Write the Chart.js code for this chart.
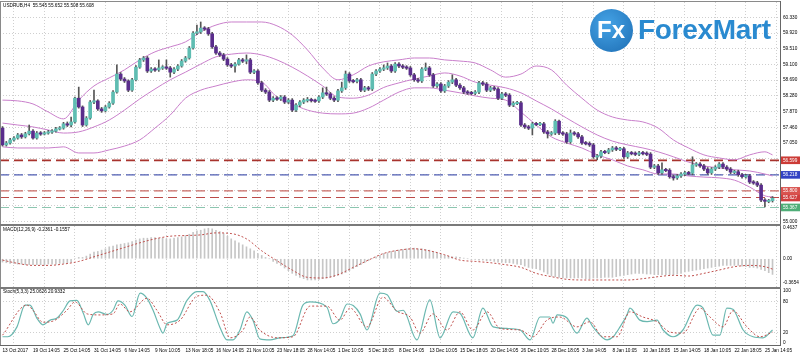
<!DOCTYPE html>
<html><head><meta charset="utf-8">
<script src="https://cdn.jsdelivr.net/npm/chart.js@4.4.1/dist/chart.umd.min.js"></script>
<style>
html,body{margin:0;padding:0;background:#fff;width:800px;height:356px;overflow:hidden;position:relative}
.c{position:absolute;left:0;width:800px}
.ln{position:absolute;background:#777}
</style></head><body>
<div class="c" style="top:-4px;height:236px"><canvas id="cMain"></canvas></div>
<div class="c" style="top:220px;height:72px"><canvas id="cMacd"></canvas></div>
<div class="c" style="top:284px;height:72px"><canvas id="cStoch"></canvas></div>
<div class="ln" style="left:0;top:1px;width:781px;height:1px;background:#8a8a8a"></div>
<div class="ln" style="left:0;top:1px;width:1px;height:345px;background:#8a8a8a"></div>
<div class="ln" style="left:780px;top:1px;width:1px;height:345px;background:#666"></div>
<div class="ln" style="left:0;top:224px;width:781px;height:2px;background:#7a7a7a"></div>
<div class="ln" style="left:0;top:287px;width:781px;height:2px;background:#7a7a7a"></div>
<div class="ln" style="left:0;top:345px;width:781px;height:1px;background:#666"></div>
<div style="position:absolute;left:590px;top:9px;width:43px;height:43px;border-radius:50%;background:radial-gradient(circle at 40% 35%,#45a3e6,#1d6db3)"></div>
<div style="position:absolute;left:597px;top:18px;color:#fff;font:bold 24px 'Liberation Sans';line-height:24px">Fx</div>
<div style="position:absolute;left:638px;top:16px;color:#2a8ad0;font:bold 28px 'Liberation Sans';line-height:28px;letter-spacing:-0.3px">ForexMart</div>
<script>
const dateLabels = ['13 Oct 2017','19 Oct 14:05','25 Oct 14:05','31 Oct 14:05','6 Nov 14:05','9 Nov 10:05','13 Nov 18:05','16 Nov 14:05','21 Nov 10:05','23 Nov 18:05','28 Nov 14:05','1 Dec 10:05','5 Dec 18:05','8 Dec 14:05','13 Dec 10:05','15 Dec 18:05','20 Dec 14:05','26 Dec 10:05','28 Dec 18:05','3 Jan 14:05','8 Jan 10:05','10 Jan 18:05','15 Jan 14:05','18 Jan 10:05','22 Jan 18:05','25 Jan 14:05'];
const priceTicks = [60.330,59.920,59.510,59.100,58.690,58.280,57.870,57.460,57.050,56.640,56.230,55.820,55.410,55.000];
const hiddenPriceTicks = [56.640,56.230,55.820,55.410];
const levelValues = [56.599,56.218,55.800,55.627,55.367];
const levelLineColors = ['#a8332d','#4f5db3','#c96a64','#bb4a48','#8cc6b0'];
const levelLabelColors = ['#cc3b36','#3443c4','#d9534f','#cf3e3e','#4fae78'];
const macdTicks = [0.4637,0,-0.3654];
const stochTicks = [100,80,20,0];

const opens = [57.44,57.00,57.05,57.13,57.18,57.26,57.21,57.29,57.36,57.18,
57.31,57.29,57.31,57.34,57.36,57.42,57.44,57.55,57.52,57.60,
58.22,57.99,57.52,57.70,58.12,58.15,57.94,57.89,57.99,58.09,
58.38,58.85,58.72,58.67,58.43,58.70,59.03,59.22,59.27,58.93,
58.98,58.96,59.01,59.03,59.01,58.90,58.98,59.06,59.19,59.27,
59.53,59.92,59.95,60.05,60.03,59.90,59.56,59.40,59.35,59.24,
59.09,59.06,59.11,59.22,59.19,59.22,58.90,58.93,58.62,58.43,
58.38,58.17,58.22,58.20,58.25,58.12,58.17,57.91,58.04,58.12,
58.17,58.18,58.16,58.15,58.25,58.36,58.33,58.22,58.17,58.41,
58.49,58.85,58.67,58.66,58.70,58.43,58.49,58.46,58.85,58.93,
58.98,59.01,59.06,58.93,59.11,59.06,59.03,59.01,58.83,58.70,
58.67,58.98,59.01,58.83,58.54,58.59,58.41,58.54,58.64,58.70,
58.56,58.49,58.38,58.36,58.35,58.38,58.62,58.59,58.43,58.49,
58.46,58.22,58.33,58.30,58.04,58.09,58.10,57.52,57.47,57.44,
57.55,57.54,57.55,57.34,57.29,57.31,57.62,57.31,57.29,57.08,
57.31,57.29,57.21,57.05,57.04,57.00,56.69,56.71,56.82,56.81,
56.87,56.92,56.89,56.90,56.69,56.79,56.78,56.76,56.79,56.78,
56.76,56.42,56.45,56.27,56.35,56.34,56.17,56.14,56.19,56.24,
56.27,56.26,56.48,56.50,56.45,56.37,56.27,56.37,56.42,56.50,
56.42,56.37,56.29,56.30,56.22,56.17,56.19,56.03,56.01,55.95,
55.56,55.53,55.545];
const closes = [57.00,57.05,57.13,57.18,57.26,57.21,57.29,57.36,57.18,57.31,
57.29,57.31,57.34,57.36,57.42,57.44,57.55,57.52,57.60,58.22,
57.99,57.52,57.70,58.12,58.15,57.94,57.89,57.99,58.09,58.38,
58.85,58.72,58.67,58.43,58.70,59.03,59.22,59.27,58.93,58.98,
58.96,59.01,59.03,59.01,58.90,58.98,59.06,59.19,59.27,59.53,
59.92,59.95,60.05,60.03,59.90,59.56,59.40,59.35,59.24,59.09,
59.06,59.11,59.22,59.19,59.22,58.90,58.93,58.62,58.43,58.38,
58.17,58.22,58.20,58.25,58.12,58.17,57.91,58.04,58.12,58.17,
58.18,58.16,58.15,58.25,58.36,58.33,58.22,58.17,58.41,58.49,
58.85,58.67,58.66,58.70,58.43,58.49,58.46,58.85,58.93,58.98,
59.01,59.06,58.93,59.11,59.06,59.03,59.01,58.83,58.70,58.67,
58.98,59.01,58.83,58.54,58.59,58.41,58.54,58.64,58.70,58.56,
58.49,58.38,58.36,58.35,58.38,58.62,58.59,58.43,58.49,58.46,
58.22,58.33,58.30,58.04,58.09,58.10,57.52,57.47,57.44,57.55,
57.54,57.55,57.34,57.29,57.31,57.62,57.31,57.29,57.08,57.31,
57.29,57.21,57.05,57.04,57.00,56.69,56.71,56.82,56.81,56.87,
56.92,56.89,56.90,56.69,56.79,56.78,56.76,56.79,56.78,56.76,
56.42,56.45,56.27,56.35,56.34,56.17,56.14,56.19,56.24,56.27,
56.26,56.48,56.50,56.45,56.37,56.27,56.37,56.42,56.50,56.42,
56.37,56.29,56.30,56.22,56.17,56.19,56.03,56.01,55.95,55.56,
55.53,55.545,55.608];
const highs = [57.48,57.09,57.17,57.22,57.30,57.30,57.33,57.52,57.40,57.35,
57.35,57.35,57.38,57.40,57.46,57.48,57.59,57.60,57.73,58.25,
58.51,58.02,57.74,58.16,58.43,58.18,57.98,58.03,58.13,58.42,
59.09,58.89,58.76,58.70,58.74,59.07,59.26,59.31,59.31,59.02,
59.02,59.22,59.07,59.22,59.05,59.02,59.10,59.23,59.31,59.57,
59.96,60.13,60.21,60.09,60.07,59.94,59.60,59.44,59.39,59.28,
59.13,59.15,59.26,59.26,59.35,59.26,58.97,58.97,58.66,58.47,
58.42,58.26,58.26,58.29,58.29,58.21,58.21,58.08,58.16,58.21,
58.24,58.22,58.20,58.29,58.49,58.51,58.37,58.26,58.45,58.64,
58.93,58.89,58.71,58.74,58.74,58.53,58.53,58.89,58.97,59.02,
59.09,59.14,59.10,59.15,59.15,59.10,59.07,59.05,58.87,58.74,
59.02,59.14,59.05,58.87,58.63,58.63,58.58,58.68,58.83,58.74,
58.60,58.53,58.42,58.40,58.42,58.66,58.66,58.63,58.53,58.53,
58.50,58.37,58.37,58.34,58.13,58.14,58.14,57.56,57.51,57.59,
57.59,57.59,57.59,57.38,57.35,57.66,57.65,57.35,57.33,57.39,
57.35,57.33,57.25,57.09,57.08,57.04,56.75,56.86,56.86,56.91,
56.96,56.96,56.94,56.94,56.83,56.83,56.82,56.83,56.83,56.82,
56.80,56.49,56.49,56.53,56.39,56.38,56.21,56.23,56.28,56.31,
56.31,56.69,56.54,56.54,56.49,56.41,56.41,56.46,56.54,56.54,
56.46,56.41,56.34,56.34,56.26,56.23,56.23,56.07,56.05,55.99,
55.60,55.58,55.652];
const lows = [56.97,56.97,57.02,57.10,57.15,57.17,57.18,57.26,57.15,57.15,
57.25,57.26,57.28,57.30,57.33,57.39,57.41,57.48,57.47,57.57,
57.96,57.48,57.49,57.67,58.08,57.90,57.85,57.86,57.96,58.06,
58.35,58.68,58.63,58.39,58.40,58.67,59.00,59.18,58.89,58.89,
58.92,58.92,58.97,58.97,58.77,58.86,58.94,59.03,59.16,59.24,
59.50,59.88,59.91,59.99,59.86,59.52,59.36,59.31,59.20,59.05,
59.02,58.90,59.08,59.15,59.12,58.86,58.86,58.58,58.39,58.34,
58.13,58.13,58.16,58.16,58.08,58.08,57.87,57.87,58.00,58.08,
58.12,58.12,58.11,58.11,58.21,58.29,58.18,58.13,58.13,58.37,
58.45,58.63,58.62,58.62,58.39,58.39,58.42,58.42,58.81,58.89,
58.94,58.97,58.89,58.89,59.02,58.99,58.97,58.79,58.66,58.63,
58.63,58.94,58.79,58.50,58.50,58.37,58.37,58.50,58.60,58.52,
58.45,58.34,58.32,58.31,58.31,58.34,58.55,58.39,58.39,58.42,
58.18,58.18,58.26,58.00,58.00,58.05,57.48,57.43,57.40,57.26,
57.50,57.50,57.30,57.18,57.25,57.27,57.27,57.25,57.04,57.04,
57.25,57.17,57.01,57.00,56.96,56.65,56.61,56.67,56.77,56.77,
56.83,56.85,56.85,56.65,56.65,56.74,56.72,56.72,56.74,56.72,
56.38,56.38,56.23,56.23,56.30,56.13,56.08,56.10,56.15,56.20,
56.22,56.22,56.44,56.41,56.33,56.23,56.23,56.33,56.38,56.38,
56.33,56.25,56.25,56.18,56.13,56.13,55.99,55.97,55.91,55.52,
55.38,55.49,55.508];

const bandIdx = [0,4,8,12,16,20,24,28,32,36,40,44,48,52,56,60,64,68,72,76,80,84,88,92,96,100,104,108,112,116,120,124,128,132,136,140,144,148,152,156,160,164,168,172,176,180,184,188,192,196,200,202];
const bbUpper = [58.17,58.15,58.07,57.86,57.68,58.17,58.54,58.75,58.96,59.22,59.43,59.56,59.69,59.95,60.13,60.21,60.21,60.21,60.11,59.87,59.48,59.01,58.70,58.83,59.06,59.17,59.22,59.27,59.27,59.22,59.19,59.14,58.96,58.77,58.85,59.06,58.96,58.56,58.22,57.91,57.73,57.65,57.60,57.44,57.13,56.92,56.74,56.66,56.61,56.74,56.82,56.74];
const bbMiddle = [57.57,57.52,57.47,57.39,57.31,57.34,57.47,57.65,57.91,58.20,58.46,58.70,58.90,59.11,59.30,59.37,59.40,59.35,59.22,59.03,58.80,58.54,58.25,58.22,58.30,58.50,58.62,58.72,58.80,58.88,58.80,58.64,58.56,58.49,58.36,58.15,57.94,57.70,57.47,57.26,57.10,57.00,56.92,56.82,56.69,56.55,56.45,56.40,56.35,56.32,56.24,56.19];
const bbLower = [56.95,56.92,56.92,56.92,56.95,56.79,56.79,56.87,56.97,57.13,57.44,57.78,58.22,58.43,58.54,58.64,58.70,58.64,58.25,58.07,57.91,57.83,57.81,57.83,57.96,58.17,58.38,58.49,58.49,58.43,58.36,58.28,58.22,58.17,57.86,57.52,57.21,57.05,56.92,56.74,56.61,56.45,56.35,56.24,56.24,56.19,56.16,56.14,56.08,55.90,55.67,55.64];

const macdMain = [-0.05,-0.06,-0.07,-0.07,-0.08,-0.08,-0.09,-0.09,-0.09,-0.09,-0.09,-0.09,-0.08,-0.08,-0.08,-0.07,-0.07,-0.06,-0.05,
0.00,0.02,0.02,0.04,0.07,0.10,0.11,0.13,0.15,0.18,0.19,0.21,0.22,0.23,0.24,0.26,0.28,
0.30,0.31,0.31,0.32,0.32,0.31,0.31,0.30,0.30,0.31,0.32,0.33,0.35,0.37,0.40,0.42,0.43,0.45,
0.46,0.45,0.43,0.41,0.38,0.34,0.30,0.27,0.24,0.21,0.18,0.15,0.12,0.08,0.05,0.02,0.00,
-0.04,-0.07,-0.10,-0.14,-0.18,-0.22,-0.25,-0.28,-0.30,-0.32,-0.32,-0.32,-0.31,-0.30,-0.29,-0.28,-0.27,-0.25,-0.23,-0.21,
-0.18,-0.15,-0.12,-0.09,-0.06,-0.03,0.00,0.03,0.05,0.08,0.09,0.11,0.12,0.13,0.14,0.15,0.16,0.16,0.15,0.15,
0.14,0.13,0.11,0.09,0.07,0.05,0.04,0.03,0.03,0.02,0.01,0.00,-0.01,-0.01,-0.02,-0.02,-0.03,-0.03,-0.04,-0.05,
-0.05,-0.06,-0.06,-0.07,-0.08,-0.09,-0.11,-0.13,-0.14,-0.15,-0.17,-0.20,-0.23,-0.26,-0.27,-0.28,-0.29,-0.29,-0.29,-0.29,
-0.29,-0.29,-0.30,-0.30,-0.29,-0.29,-0.29,-0.28,-0.28,-0.28,-0.27,-0.26,-0.25,-0.24,-0.23,-0.22,-0.22,-0.22,-0.23,-0.23,
-0.24,-0.24,-0.24,-0.24,-0.24,-0.24,-0.23,-0.22,-0.20,-0.19,-0.18,-0.17,-0.16,-0.15,-0.14,-0.13,-0.12,-0.11,-0.10,-0.10,
-0.10,-0.10,-0.10,-0.11,-0.12,-0.13,-0.13,-0.14,-0.16,-0.18,-0.21,-0.2361];
const macdSignal = [-0.02,-0.07,-0.10,-0.10,-0.08,-0.04,0.03,0.10,0.17,0.24,0.30,0.34,0.35,0.36,0.39,0.38,0.30,0.12,-0.03,-0.17,-0.28,-0.29,-0.24,-0.13,-0.02,0.08,0.13,0.15,0.12,0.06,-0.02,-0.04,-0.06,-0.09,-0.13,-0.22,-0.27,-0.31,-0.32,-0.32,-0.32,-0.32,-0.30,-0.27,-0.25,-0.26,-0.22,-0.17,-0.12,-0.10,-0.12,-0.1557];

const stochMainIdx = [0,1.4,3.8,5.9,7.2,9,10.6,12.5,14.3,16,17.7,19.5,21.2,22.5,23.8,25.1,27.4,29,30.3,32.1,34,36.1,37.9,39.5,41.3,42.1,43.2,45.8,48.4,51,52.6,54.4,57,58.9,60.5,62.3,64.1,65.7,67.5,70.2,72.8,76.2,78.8,80.7,85.1,86.7,88.5,90.4,92,93.8,95.6,99,100.9,103.5,105.1,108.7,112.1,114.8,118.2,120,123.4,126,128.7,132.3,135.8,138.4,141,143.6,144.4,145.5,148.1,150.7,153.3,154.9,158.6,160.2,162,163.8,164.6,167.2,169.1,171.7,173.3,175.9,178.5,182.2,183.8,186.4,188.2,190,191.6,194.3,196.9,199.5,202];
const stochMain = [12,12,31,73,73,48,35,44,48,63,81,82,57,35,55,60,55,63,81,73,51,96,86,63,29,19,38,44,82,99,99,82,31,6,6,25,60,44,8,6,10,14,73,79,69,37,46,75,72,56,25,96,93,61,63,6,83,10,60,57,10,67,31,28,25,6,50,50,38,54,48,19,48,31,6,12,31,54,67,44,41,44,25,12,25,73,67,15,15,67,65,25,12,10,25.06];
const stochSignalIdx = [0,6.4,8,10.6,13.2,16.9,19,22.2,25.6,29,30.8,33.4,37.9,40.5,43.2,46.6,51,53.6,57.1,59.7,63.1,64.9,67.5,72,76.2,80.7,85.1,88.5,91.2,95.6,99.8,103.5,106.9,109.5,112.9,116.6,120,123.4,127.1,130.5,135.8,139.2,142.8,146.2,150.7,154.1,157.5,161.2,164.6,168,171.7,175.1,178.5,183,185.6,189,191.6,195.3,198.7,202];
const stochSignal = [15,73,63,40,42,63,79,56,54,56,75,60,86,63,35,44,90,92,58,10,25,50,25,10,12,71,71,44,67,31,88,61,50,19,56,25,60,25,60,28,25,12,44,50,31,41,12,12,60,50,41,21,19,67,50,31,62,31,12,20.93];

const XMIN = -0.656, XMAX = 203.96;
const FONT = {family:'Liberation Sans', size:4.7};
const GRID = '#cfcfcf';
const near = (a,b)=>Math.abs(a-b)<1e-6;
const levelIndex = v => levelValues.findIndex(l=>near(l,v));

function gridX(){
  return {type:'linear',min:XMIN,max:XMAX,position:'bottom',offset:false,
    grid:{display:true,offset:false,drawTicks:false,color:GRID,lineWidth:1,borderDash:[1,2]},
    border:{display:false,dash:[1,2]},
    ticks:{display:false},
    afterBuildTicks:s=>{const t=[];for(let k=0;k<26;k++)t.push({value:8*k+3});s.ticks=t;},
    afterFit:s=>{s.height=0;s.paddingLeft=0;s.paddingRight=0;}};
}
function headerPlugin(text, dy){
  return {id:'hdr',afterDraw(chart){const c=chart.ctx;c.save();c.font='4.7px "Liberation Sans"';c.fillStyle='#000';c.textBaseline='middle';c.textAlign='left';c.fillText(text,3,chart.chartArea.top+dy);c.restore();}};
}
function yRight(min,max,tickVals,opts){
  return Object.assign({type:'linear',position:'right',min:min,max:max,
    afterBuildTicks:s=>{s.ticks=tickVals.slice().sort((a,b)=>a-b).map(v=>({value:v}));},
    afterFit:s=>{s.width=20;s.paddingTop=0;s.paddingBottom=0;},
    border:{display:false,dash:[1,2]},
  },opts);
}
const common = {responsive:true,maintainAspectRatio:false,animation:false,devicePixelRatio:1,events:[],
  plugins:{legend:{display:false},tooltip:{enabled:false}}};

// ---------- main price chart ----------
const idx = opens.map((_,i)=>i);
const minBody = 0.035;
const wickData = idx.map(i=>({x:i,y:[lows[i],highs[i]]}));
const bodyData = idx.map(i=>{const lo=Math.min(opens[i],closes[i]),hi=Math.max(opens[i],closes[i]);const p=Math.max(0,(minBody-(hi-lo))/2);return {x:i,y:[lo-p,hi+p]};});
const bodyColors = idx.map(i=>closes[i]>=opens[i]?'#5fbdb2':'#5a2d8c');
const band = (vals)=>bandIdx.map((x,i)=>({x:x,y:vals[i]}));
const levelSets = levelValues.map((v,k)=>({type:'line',data:[{x:XMIN,y:v},{x:XMAX,y:v}],borderColor:levelLineColors[k],borderWidth:k===0?1.8:(k===1?1.4:1.1),borderDash:[9,5],pointRadius:0,order:5}));

new Chart(document.getElementById('cMain'),{
  type:'bar',
  data:{datasets:[
    ...levelSets,
    {type:'line',data:band(bbUpper),borderColor:'#c97fcb',borderWidth:1,pointRadius:0,cubicInterpolationMode:'monotone',order:4},
    {type:'line',data:band(bbMiddle),borderColor:'#c97fcb',borderWidth:1,pointRadius:0,cubicInterpolationMode:'monotone',order:4},
    {type:'line',data:band(bbLower),borderColor:'#c97fcb',borderWidth:1,pointRadius:0,cubicInterpolationMode:'monotone',order:4},
    {type:'bar',data:wickData,backgroundColor:'#555',barThickness:1,grouped:false,order:2},
    {type:'bar',data:bodyData,backgroundColor:bodyColors,borderWidth:0,barThickness:3,grouped:false,order:1}
  ]},
  options:Object.assign({},common,{
    layout:{padding:{top:6,bottom:8,left:0,right:0}},
    scales:{
      x:gridX(),
      y:yRight(54.935,60.732,[...priceTicks,...levelValues],{
        grid:{drawTicks:false,borderDash:[1,2],color:c=>(c.tick&&levelIndex(c.tick.value)>=0)?'rgba(0,0,0,0)':GRID},
        ticks:{autoSkip:false,padding:3,font:FONT,
          color:c=>(c.tick&&levelIndex(c.tick.value)>=0)?'#fff':'#000',
          showLabelBackdrop:c=>!!(c.tick&&levelIndex(c.tick.value)>=0),
          backdropColor:c=>{const k=c.tick?levelIndex(c.tick.value):-1;return k>=0?levelLabelColors[k]:'rgba(0,0,0,0)';},
          backdropPadding:{top:1,bottom:1,left:2,right:3},
          callback:v=>hiddenPriceTicks.some(h=>near(h,v))?'':v.toFixed(3)}
      })
    }
  }),
  plugins:[headerPlugin('USDRUB,H4  55.545 55.652 55.508 55.608',3.5)]
});

// ---------- MACD ----------
new Chart(document.getElementById('cMacd'),{
  type:'bar',
  data:{datasets:[
    {type:'line',data:bandIdx.map((x,i)=>({x:x,y:macdSignal[i]})),borderColor:'#c0504d',borderWidth:1,borderDash:[2,2],pointRadius:0,cubicInterpolationMode:'monotone',order:1},
    {type:'bar',data:idx.map(i=>({x:i,y:macdMain[i]})),backgroundColor:'#c6c6c6',barThickness:1,grouped:false,order:2}
  ]},
  options:Object.assign({},common,{
    layout:{padding:{top:6,bottom:5,left:0,right:0}},
    scales:{
      x:gridX(),
      y:yRight(-0.4257,0.4939,macdTicks,{
        grid:{drawTicks:false,color:'rgba(0,0,0,0)'},
        ticks:{autoSkip:false,padding:3,font:FONT,color:'#000',callback:v=>near(v,0)?'0.00':String(v)}
      })
    }
  }),
  plugins:[headerPlugin('MACD(12,26,9) -0.2361 -0.1557',3.5)]
});

// ---------- Stochastic ----------
new Chart(document.getElementById('cStoch'),{
  type:'line',
  data:{datasets:[
    {data:stochSignalIdx.map((x,i)=>({x:x,y:stochSignal[i]})),borderColor:'#c0504d',borderWidth:1,borderDash:[2,2],pointRadius:0,cubicInterpolationMode:'monotone'},
    {data:stochMainIdx.map((x,i)=>({x:x,y:stochMain[i]})),borderColor:'#6bb8b0',borderWidth:1.2,pointRadius:0,cubicInterpolationMode:'monotone'}
  ]},
  options:Object.assign({},common,{
    layout:{padding:{top:4,bottom:0,left:0,right:0}},
    scales:{
      x:gridX(),
      xl:{type:'linear',min:XMIN,max:XMAX,position:'bottom',offset:false,
        grid:{display:false,drawTicks:false},border:{display:false},
        afterBuildTicks:s=>{s.ticks=dateLabels.map((_,k)=>({value:8*k}));},
        afterFit:s=>{s.height=11;s.paddingLeft=0;s.paddingRight=0;},
        ticks:{autoSkip:false,maxRotation:0,minRotation:0,align:'start',padding:3,font:FONT,color:'#000',callback:(v,i)=>dateLabels[i]}},
      y:yRight(-3.85,105.8,stochTicks,{
        grid:{drawTicks:false,borderDash:[1,2],color:c=>(c.tick&&(c.tick.value===80||c.tick.value===20))?GRID:'rgba(0,0,0,0)'},
        ticks:{autoSkip:false,padding:3,font:FONT,color:'#000',callback:v=>String(v)}
      })
    }
  }),
  plugins:[headerPlugin('Stoch(5,3,3) 25.0626 20.9332',4)]
});
</script>
</body></html>
